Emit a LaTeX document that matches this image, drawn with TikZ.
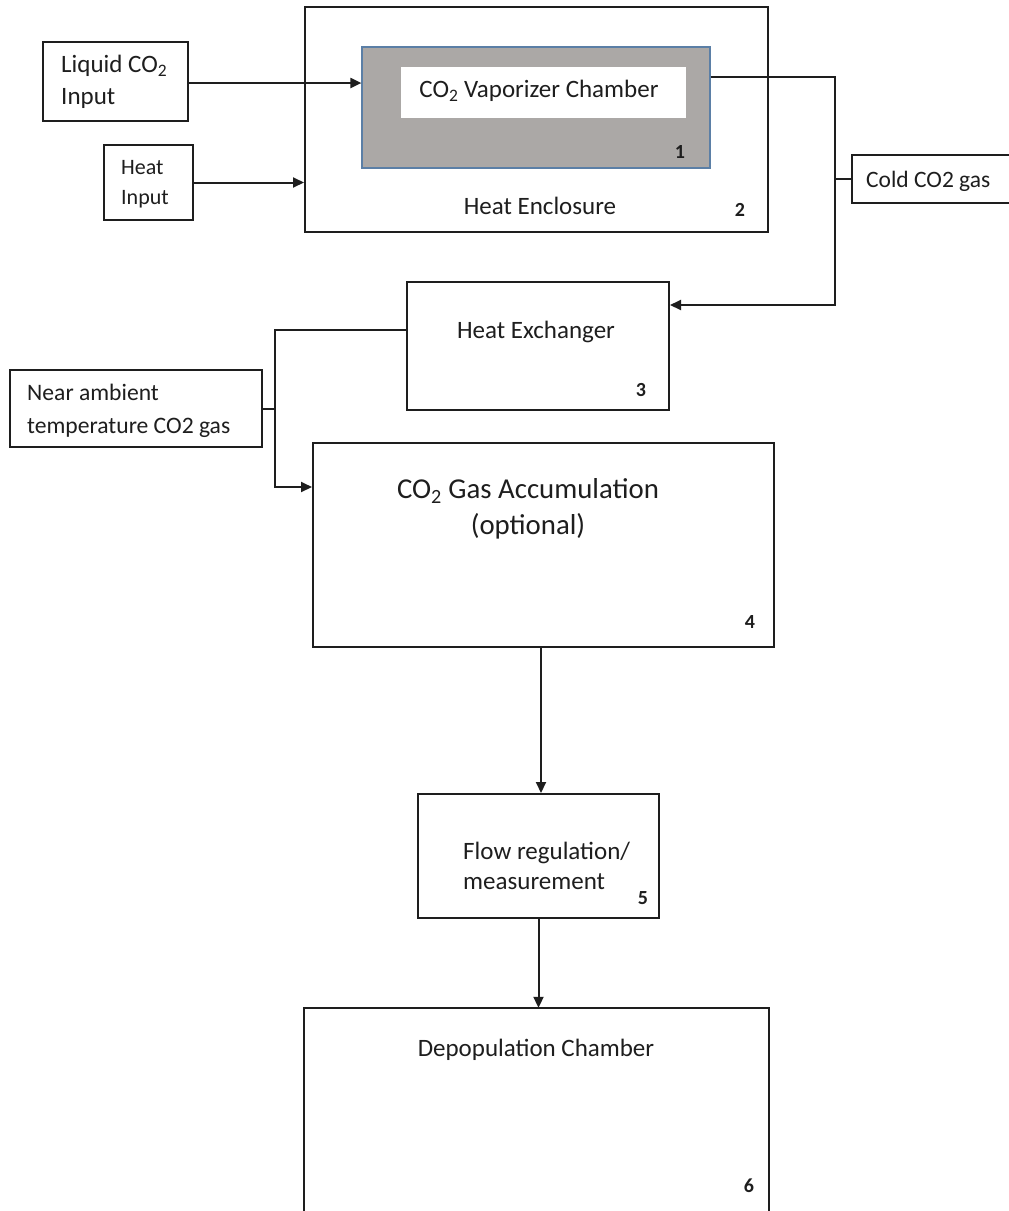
\documentclass[tikz,border=0pt]{standalone}
\usepackage{fontspec}
\setmainfont{Carlito}
\usetikzlibrary{arrows.meta,calc}
\definecolor{ink}{HTML}{1E1E1E}
\definecolor{chambergray}{HTML}{ABA8A6}
\definecolor{chamberedge}{HTML}{5B7FA6}
\tikzset{
  box/.style={draw=ink,line width=2pt,rectangle,inner sep=0pt,fill=white},
  arr/.style={draw=ink,line width=2pt,-{Triangle[length=11pt,width=10pt]}},
  wire/.style={draw=ink,line width=2pt},
  txt/.style={text=ink,inner sep=0pt,font=\fontsize{25}{31}\selectfont},
  bigtxt/.style={text=ink,inner sep=0pt,font=\fontsize{28.8}{36}\selectfont,align=center},
  num/.style={text=ink,inner sep=0pt,font=\fontsize{20}{22}\selectfont\bfseries},
}
\begin{document}
\begin{tikzpicture}[x=1pt,y=-1pt]
\useasboundingbox[fill=white] (0,0) rectangle (1009,1211);
% boxes
\node[box,minimum width=463pt,minimum height=225pt] (enc) at (536.5,119.5) {};
\node[box,draw=chamberedge,line width=1.2pt,fill=chambergray,minimum width=348pt,minimum height=121pt] (vap) at (536,107.5) {};
\node[rectangle,fill=white,inner sep=0pt,minimum width=285pt,minimum height=51pt] (inner) at (543.5,92.5) {};
\node[box,minimum width=145pt,minimum height=79pt] (liq) at (115.5,81.5) {};
\node[box,minimum width=89pt,minimum height=75pt] (heat) at (148.5,182.5) {};
\node[box,minimum width=165pt,minimum height=48pt] (cold) at (934.5,179) {};
\node[box,minimum width=262pt,minimum height=128pt] (hx) at (538,346) {};
\node[box,minimum width=252pt,minimum height=77pt] (amb) at (136,408.5) {};
\node[box,minimum width=461pt,minimum height=204pt] (acc) at (543.5,545) {};
\node[box,minimum width=241pt,minimum height=124pt] (flow) at (538.5,856) {};
\node[rectangle,inner sep=0pt,minimum width=465pt,minimum height=220pt] (depop) at (536.5,1118) {};
\draw[wire] (depop.south west) -- (depop.north west) -- (depop.north east) -- (depop.south east);
% texts
\node[txt] (tinner) at (539,91) {CO\textsubscript{2} Vaporizer Chamber};
\node[num] (n1) at (680,152) {1};
\node[txt] (tenc) at (540,206) {Heat Enclosure};
\node[num] (n2) at (740,210) {2};
\node[txt,anchor=west,align=left,font=\fontsize{25}{32}\selectfont] (tliq) at (61,82) {Liquid CO\textsubscript{2}\\Input};
\node[txt,anchor=west,align=left,font=\fontsize{22}{30}\selectfont] (theat) at (121,184) {Heat\\Input};
\node[txt,anchor=west,font=\fontsize{23.5}{26}\selectfont] (tcold) at (866,181) {Cold CO2 gas};
\node[txt] (thx) at (536,332) {Heat Exchanger};
\node[num] (n3) at (641,390) {3};
\node[txt,anchor=west,align=left,font=\fontsize{23.6}{33}\selectfont] (tamb) at (27,411) {Near ambient\\temperature CO2 gas};
\node[bigtxt] (tacc) at (528,509) {CO\textsubscript{2} Gas Accumulation\\(optional)};
\node[num] (n4) at (750,622) {4};
\node[txt,anchor=west,align=left,font=\fontsize{25}{30}\selectfont] (tflow) at (463,866) {Flow regulation/\\measurement};
\node[num] (n5) at (643,898) {5};
\node[txt] (tdep) at (536,1050) {Depopulation Chamber};
\node[num] (n6) at (749,1186) {6};
% connectors
\coordinate (bx) at (835,77);
\coordinate (by) at (835,305);
\coordinate (cx) at (275,330);
\coordinate (cy) at (275,487);
\draw[arr] (liq.east |- 0,83) -- (vap.west |- 0,83);
\draw[arr] (heat.east) -- (enc.west |- heat.east);
\draw[arr] (vap.east |- bx) -- (bx) -- (by) -- (hx.east |- by);
\draw[wire] (cold.west) -- (cold.west -| bx);
\draw[arr] (hx.west |- cx) -- (cx) -- (cy) -- (acc.west |- cy);
\draw[wire] (amb.east) -- (amb.east -| cx);
\draw[arr] (acc.south -| 541,0) -- (flow.north -| 541,0);
\draw[arr] (flow.south) -- (depop.north -| flow.south);
\end{tikzpicture}
\end{document}
